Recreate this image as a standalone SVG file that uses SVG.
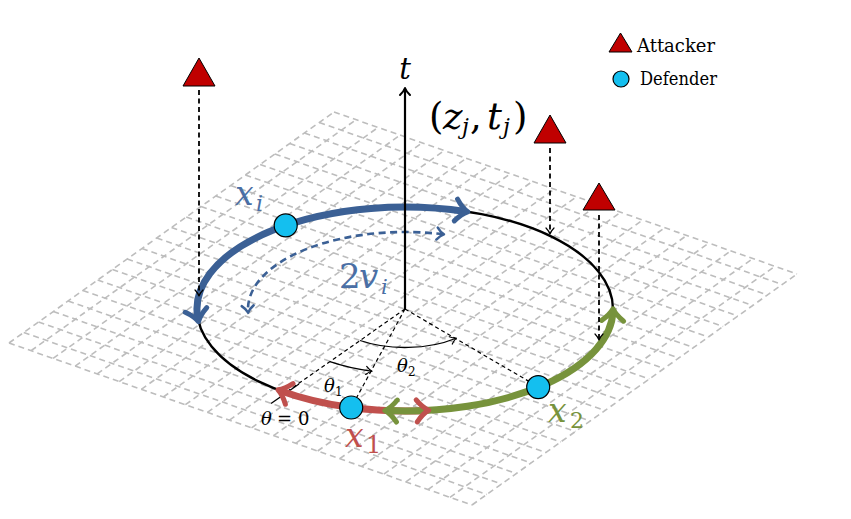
<svg xmlns="http://www.w3.org/2000/svg" width="851" height="519" viewBox="0 0 851 519">
<style>
.grid{fill:none;stroke:#bdbdbd;stroke-width:1.6;stroke-dasharray:6 4}
.ell{fill:none;stroke:#000;stroke-width:2.4}
.rad{fill:none;stroke:#000;stroke-width:1.2;stroke-dasharray:4 3}
.thin{fill:none;stroke:#000;stroke-width:1.3}
.att{fill:none;stroke:#000;stroke-width:1.8;stroke-dasharray:5 3.5}
.tri{fill:#c00000;stroke:#000;stroke-width:1}
.def{fill:#14bfef;stroke:#000;stroke-width:1.2}
.tb{fill:none;stroke:#3b6095;stroke-width:7}
.tr{fill:none;stroke:#c0504d;stroke-width:7}
.tg{fill:none;stroke:#77933c;stroke-width:7}
.db{fill:none;stroke:#3b6095;stroke-width:2.6;stroke-dasharray:7 4.5}
.it{font-style:italic}
</style>
<defs>
<marker id="hb" markerUnits="userSpaceOnUse" viewBox="-16 -16 32 32" markerWidth="32" markerHeight="32" orient="auto-start-reverse">
<path d="M-10,-11 Q-4,-3 2,0 Q-4,3 -10,11" fill="none" stroke="#3b6095" stroke-width="5" stroke-linecap="round" stroke-linejoin="round"/>
</marker>
<marker id="hr" markerUnits="userSpaceOnUse" viewBox="-16 -16 32 32" markerWidth="32" markerHeight="32" orient="auto-start-reverse">
<path d="M-10,-11 Q-4,-3 2,0 Q-4,3 -10,11" fill="none" stroke="#c0504d" stroke-width="5" stroke-linecap="round" stroke-linejoin="round"/>
</marker>
<marker id="hg" markerUnits="userSpaceOnUse" viewBox="-16 -16 32 32" markerWidth="32" markerHeight="32" orient="auto-start-reverse">
<path d="M-10,-11 Q-4,-3 2,0 Q-4,3 -10,11" fill="none" stroke="#77933c" stroke-width="5" stroke-linecap="round" stroke-linejoin="round"/>
</marker>
<marker id="hd" markerUnits="userSpaceOnUse" viewBox="-10 -10 20 20" markerWidth="20" markerHeight="20" orient="auto-start-reverse">
<path d="M-6,-6 Q-2.5,-1.5 1,0 Q-2.5,1.5 -6,6" fill="none" stroke="#3b6095" stroke-width="2.5" stroke-linecap="round" stroke-linejoin="round"/>
</marker>
<marker id="hk" markerUnits="userSpaceOnUse" viewBox="-8 -8 16 16" markerWidth="16" markerHeight="16" orient="auto-start-reverse">
<path d="M-5,-4 Q-2,-1 1,0 Q-2,1 -5,4" fill="none" stroke="#000" stroke-width="1.2" stroke-linecap="round" stroke-linejoin="round"/>
</marker>
<marker id="ha" markerUnits="userSpaceOnUse" viewBox="-10 -10 20 20" markerWidth="20" markerHeight="20" orient="auto-start-reverse">
<path d="M-6,-5 Q-2,-1 1,0 Q-2,1 -6,5" fill="none" stroke="#000" stroke-width="2" stroke-linecap="round" stroke-linejoin="round"/>
</marker>
</defs>

<g id="plane">
<path class="grid" d="M9,343l325,-231M31.05,350.71l325,-231M53.1,358.43l325,-231M75.14,366.14l325,-231M97.19,373.86l325,-231M119.24,381.57l325,-231M141.29,389.29l325,-231M163.33,397l325,-231M185.38,404.71l325,-231M207.43,412.43l325,-231M229.48,420.14l325,-231M251.52,427.86l325,-231M273.57,435.57l325,-231M295.62,443.29l325,-231M317.67,451l325,-231M339.71,458.71l325,-231M361.76,466.43l325,-231M383.81,474.14l325,-231M405.86,481.86l325,-231M427.9,489.57l325,-231M449.95,497.29l325,-231M472,505l325,-231"/>
<path class="grid" d="M9,343l463,162M23.77,332.5l463,162M38.55,322l463,162M53.32,311.5l463,162M68.09,301l463,162M82.86,290.5l463,162M97.64,280l463,162M112.41,269.5l463,162M127.18,259l463,162M141.95,248.5l463,162M156.73,238l463,162M171.5,227.5l463,162M186.27,217l463,162M201.05,206.5l463,162M215.82,196l463,162M230.59,185.5l463,162M245.36,175l463,162M260.14,164.5l463,162M274.91,154l463,162M289.68,143.5l463,162M304.45,133l463,162M319.23,122.5l463,162M334,112l463,162"/>
</g>

<g id="connectors">
<ellipse class="ell" cx="405" cy="309" rx="208" ry="102"/>
<path class="rad" d="M405,309L285.7,392.6M405,309L351.2,407.5M405,309L538.7,387.1"/>
<path class="thin" d="M299,384L271,403.5"/>
<path class="thin" d="M329.9,361.7A131 64.3 0 0 0 371.1,371.1" marker-end="url(#hk)"/>
<path class="thin" d="M360,340.5A78.4 38.5 0 0 0 455.4,338.5" marker-end="url(#hk)"/>
<path class="tb" d="M465.8,211.5A208 102 0 0 0 198.1,319.7" marker-start="url(#hb)" marker-end="url(#hb)"/>
<path class="db" d="M443,234.3A157 77 0 0 0 248.1,311.7" marker-start="url(#hd)" marker-end="url(#hd)"/>
<path class="tr" d="M279.8,390.5A208 102 0 0 0 426.7,410.4" marker-start="url(#hr)"/>
<path class="tg" d="M386.9,410.6A208 102 0 0 0 613,310.8" marker-start="url(#hg)" marker-end="url(#hg)"/>
<path fill="none" stroke="none" d="M412.3,410.9A208 102 0 0 0 426.7,410.4" marker-end="url(#hr)"/>
<line x1="405" y1="309" x2="405" y2="89" stroke="#000" stroke-width="2.2" marker-end="url(#ha)"/>
<path class="att" d="M199,90L199,295" marker-end="url(#hk)"/>
<path class="att" d="M550,148L550,233" marker-end="url(#hk)"/>
<path class="att" d="M599,215L599,339" marker-end="url(#hk)"/>
</g>

<g id="attacker1"><polygon class="tri" points="199,58 215,86 183,86"/></g>
<g id="attacker2"><polygon class="tri" points="550,115 566,143 534,143"/></g>
<g id="attacker3"><polygon class="tri" points="599,183 615,210 583,210"/></g>

<g id="defender-xi"><circle class="def" cx="285.7" cy="225.4" r="11.5"/></g>
<g id="defender-x1"><circle class="def" cx="351.2" cy="407.5" r="11.5"/></g>
<g id="defender-x2"><circle class="def" cx="538.2" cy="387.1" r="11.5"/></g>

<g id="labels" font-family="DejaVu Serif, serif">
<text class="it" x="405" y="79" text-anchor="middle" font-size="29">t</text>
<text font-size="37" y="129"><tspan x="429">(</tspan><tspan class="it" x="443">z</tspan><tspan class="it" x="462" y="134" font-size="22">j</tspan><tspan x="470" y="129">,</tspan><tspan class="it" x="487">t</tspan><tspan class="it" x="503" y="134" font-size="22">j</tspan><tspan x="513" y="129">)</tspan></text>
<text fill="#4a6fa5" font-size="33"><tspan class="it" x="235" y="205">x</tspan><tspan class="it" x="256" y="211" font-size="22">i</tspan></text>
<text fill="#4a6fa5" font-size="34"><tspan x="339" y="288">2</tspan><tspan class="it" x="359" y="288">v</tspan><tspan class="it" x="381" y="294" font-size="21">i</tspan></text>
<text font-size="18"><tspan class="it" x="324" y="392">θ</tspan><tspan x="335" y="396" font-size="12">1</tspan></text>
<text font-size="18"><tspan class="it" x="397" y="372">θ</tspan><tspan x="408" y="376" font-size="12">2</tspan></text>
<text font-size="18" y="425"><tspan class="it" x="261">θ</tspan><tspan x="277">=</tspan><tspan x="298">0</tspan></text>
<text fill="#c0504d" font-size="33"><tspan class="it" x="345" y="447">x</tspan><tspan x="366" y="453" font-size="24">1</tspan></text>
<text fill="#77933c" font-size="33"><tspan class="it" x="548" y="422">x</tspan><tspan x="570" y="428" font-size="22">2</tspan></text>
</g>

<g id="legend" font-family="DejaVu Serif, serif">
<polygon class="tri" points="620.5,33 632,52 609,52"/>
<text x="637" y="52" font-size="19" textLength="78" lengthAdjust="spacingAndGlyphs">Attacker</text>
<circle class="def" cx="621" cy="79" r="8"/>
<text x="640" y="85" font-size="19" textLength="77" lengthAdjust="spacingAndGlyphs">Defender</text>
</g>
</svg>
